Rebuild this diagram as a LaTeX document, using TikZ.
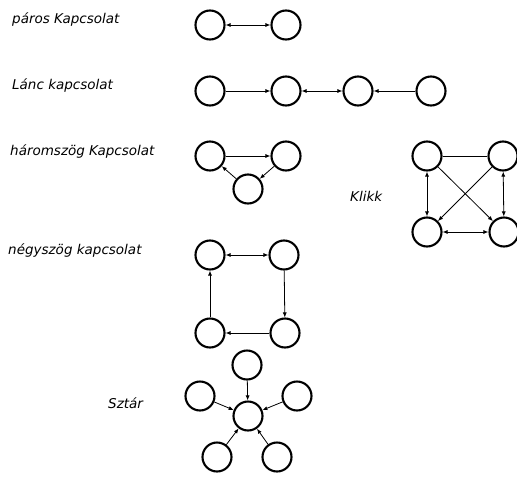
\documentclass[tikz,border=0pt]{standalone}
\usepackage{fontspec}
\setmainfont{DejaVu Sans}
\usetikzlibrary{arrows.meta}
\begin{document}
\begin{tikzpicture}[x=1pt,y=-1pt,
        kor/.style={circle,draw,line width=2.1pt,minimum size=29pt,inner sep=0pt},
        felirat/.style={anchor=west,inner sep=0pt,font=\fontsize{13.5}{15}\selectfont\itshape},
        el/.style={line width=0.8pt,>={Latex[length=5pt,width=4pt]}}]
        \useasboundingbox (0,0) rectangle (517,477);
        % paros kapcsolat
        \node[felirat] (tparos) at (12,20) {páros Kapcsolat};
        \node[kor] (p1) at (210,25) {};
        \node[kor] (p2) at (286,25) {};
        \draw[el,<->] (p1) -- (p2);
        % lanc kapcsolat
        \node[felirat] (tlanc) at (12,86) {Lánc kapcsolat};
        \node[kor] (l1) at (210,91) {};
        \node[kor] (l2) at (286,91) {};
        \node[kor] (l3) at (358,91) {};
        \node[kor] (l4) at (431,91) {};
        \draw[el,->] (l1) -- (l2);
        \draw[el,<->] (l2) -- (l3);
        \draw[el,->] (l4) -- (l3);
        % haromszog kapcsolat
        \node[felirat] (tharom) at (10,152) {háromszög Kapcsolat};
        \node[kor] (h1) at (210,156) {};
        \node[kor] (h2) at (286,156) {};
        \node[kor] (h3) at (248,189) {};
        \draw[el,->] (h1) -- (h2);
        \draw[el,->] (h2) -- (h3);
        \draw[el,->] (h3) -- (h1);
        % klikk
        \node[felirat] (tklikk) at (350,196) {Klikk};
        \node[kor] (k1) at (427,156) {};
        \node[kor] (k2) at (503,156) {};
        \node[kor] (k3) at (427,232) {};
        \node[kor] (k4) at (504,232) {};
        \draw[el] (k1) -- (k2);
        \draw[el,<->] (k1) -- (k3);
        \draw[el,<->] (k2) -- (k4);
        \draw[el,<->] (k3) -- (k4);
        \draw[el,->] (k1) -- (k4);
        \draw[el,->] (k2) -- (k3);
        % negyszog kapcsolat
        \node[felirat] (tnegy) at (8,251) {négyszög kapcsolat};
        \node[kor] (n1) at (210,255) {};
        \node[kor] (n2) at (284,255) {};
        \node[kor] (n3) at (210,333) {};
        \node[kor] (n4) at (285,333) {};
        \draw[el,<->] (n1) -- (n2);
        \draw[el,->] (n2) -- (n4);
        \draw[el,->] (n4) -- (n3);
        \draw[el,->] (n3) -- (n1);
        % sztar
        \node[felirat] (tsztar) at (108,403) {Sztár};
        \node[kor] (s0) at (248,416) {};
        \node[kor] (s1) at (247,365) {};
        \node[kor] (s2) at (200,396) {};
        \node[kor] (s3) at (297,396) {};
        \node[kor] (s4) at (217,457) {};
        \node[kor] (s5) at (277,457) {};
        \foreach \k in {s1,s2,s3,s4,s5}
            \draw[el,->] (\k) -- (s0);
\end{tikzpicture}
\end{document}
